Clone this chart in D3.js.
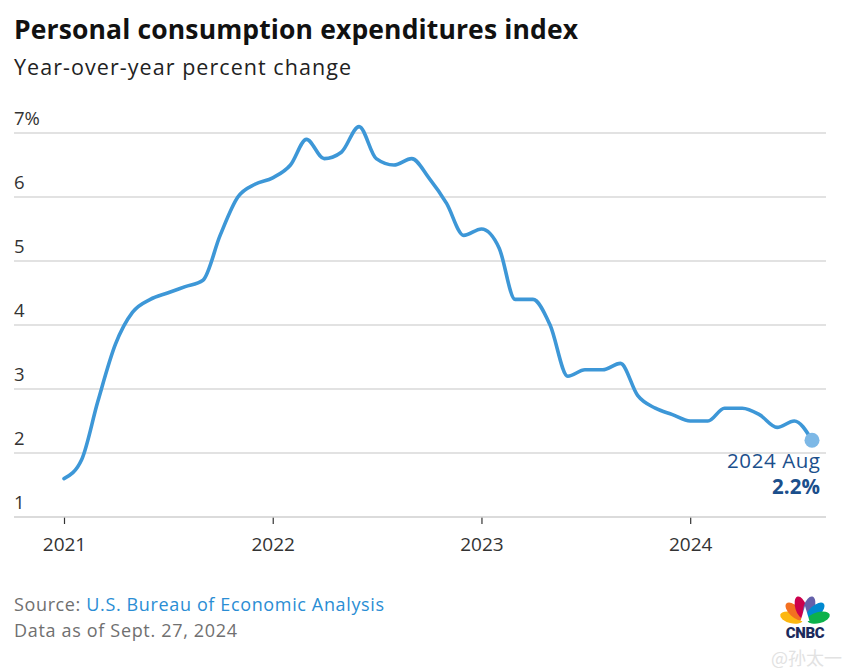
<!DOCTYPE html>
<html>
<head>
<meta charset="utf-8">
<script src="https://cdn.jsdelivr.net/npm/d3@7"></script>
<style>
  html, body { margin: 0; padding: 0; background: #fff; }
  svg { display: block; font-family: "Open Sans", Lato, sans-serif; }
</style>
</head>
<body>
<svg id="chart" width="844" height="671"></svg>
<script>
// ---- data ----
const months = [
  "2021-01","2021-02","2021-03","2021-04","2021-05","2021-06","2021-07","2021-08","2021-09","2021-10","2021-11","2021-12",
  "2022-01","2022-02","2022-03","2022-04","2022-05","2022-06","2022-07","2022-08","2022-09","2022-10","2022-11","2022-12",
  "2023-01","2023-02","2023-03","2023-04","2023-05","2023-06","2023-07","2023-08","2023-09","2023-10","2023-11","2023-12",
  "2024-01","2024-02","2024-03","2024-04","2024-05","2024-06","2024-07","2024-08"
];
const pceValues = [
  1.6, 1.9, 2.8, 3.7, 4.2, 4.4, 4.5, 4.6, 4.7, 5.4, 6.0, 6.2,
  6.3, 6.5, 6.9, 6.6, 6.7, 7.1, 6.6, 6.5, 6.6, 6.3, 5.9, 5.4,
  5.5, 5.2, 4.4, 4.4, 4.0, 3.2, 3.3, 3.3, 3.4, 2.9, 2.7, 2.6,
  2.5, 2.5, 2.7, 2.7, 2.6, 2.4, 2.5, 2.2
];
const yTicks = [1, 2, 3, 4, 5, 6, 7];
const xTickYears = ["2021", "2022", "2023", "2024"];

const title = "Personal consumption expenditures index";
const subtitle = "Year-over-year percent change";
const annotationLabel = "2024 Aug";
const annotationValue = "2.2%";

// ---- setup ----
const svg = d3.select("#chart");
const parse = d3.timeParse("%Y-%m");
const data = months.map((m, i) => ({ date: parse(m), value: pceValues[i] }));

const left = 14, right = 826;
const x = d3.scaleTime()
  .domain([parse(months[0]), parse(months[months.length - 1])])
  .range([64, 812]);
const y = d3.scaleLinear().domain([1, 7]).range([517, 133]);

// title & subtitle
svg.append("text").attr("x", 14).attr("y", 39)
  .attr("font-size", 26.5).attr("font-weight", 700).attr("fill", "#111")
  .attr("textLength", 564).attr("lengthAdjust", "spacing")
  .text(title);
svg.append("text").attr("x", 14).attr("y", 75)
  .attr("font-size", 21.5).attr("fill", "#222")
  .attr("textLength", 337).attr("lengthAdjust", "spacing")
  .text(subtitle);

// gridlines
svg.append("g").selectAll("line")
  .data(yTicks.filter(d => d > 1))
  .join("line")
  .attr("x1", left).attr("x2", right)
  .attr("y1", d => y(d)).attr("y2", d => y(d))
  .attr("stroke", "#d9d9d9").attr("stroke-width", 1.5);

// y labels
svg.append("g").selectAll("text")
  .data(yTicks)
  .join("text")
  .attr("x", 14).attr("y", d => y(d) - 8)
  .attr("font-size", 18.5).attr("fill", "#333")
  .text(d => d === 7 ? d + "%" : d);

// x axis
const xAxis = d3.axisBottom(x)
  .tickValues(xTickYears.map(yy => d3.timeParse("%Y")(yy)))
  .tickFormat(d3.timeFormat("%Y"))
  .tickSize(7).tickPadding(14);
const gx = svg.append("g").attr("transform", "translate(0,517)").call(xAxis);
gx.select(".domain").remove();
gx.selectAll(".tick line").attr("stroke", "#333").attr("stroke-width", 1.2);
gx.selectAll(".tick text").attr("font-size", 19).attr("fill", "#333")
  .attr("font-family", "'Open Sans', sans-serif");
svg.append("line")
  .attr("x1", left).attr("x2", right).attr("y1", y(1)).attr("y2", y(1))
  .attr("stroke", "#cfcfcf").attr("stroke-width", 1.5);

// line
const line = d3.line()
  .x(d => x(d.date)).y(d => y(d.value))
  .curve(d3.curveMonotoneX);
svg.append("path").datum(data)
  .attr("d", line)
  .attr("fill", "none").attr("stroke", "#3d97d7")
  .attr("stroke-width", 3.6).attr("stroke-linecap", "round").attr("stroke-linejoin", "round");

// end dot
const last = data[data.length - 1];
svg.append("circle")
  .attr("cx", x(last.date)).attr("cy", y(last.value)).attr("r", 7.5)
  .attr("fill", "#7db8e6");

// annotation
svg.append("text").attr("x", 820).attr("y", 468).attr("text-anchor", "end")
  .attr("font-size", 20.5).attr("fill", "#1b4f8c")
  .attr("textLength", 93).attr("lengthAdjust", "spacing")
  .text(annotationLabel);
svg.append("text").attr("x", 820).attr("y", 494).attr("text-anchor", "end")
  .attr("font-size", 20.5).attr("font-weight", 700).attr("fill", "#1b4f8c")
  .attr("textLength", 48).attr("lengthAdjust", "spacing")
  .text(annotationValue);

// source
const src = svg.append("text").attr("x", 14).attr("y", 611).attr("font-size", 18)
  .attr("textLength", 370).attr("lengthAdjust", "spacing");
src.append("tspan").attr("fill", "#707070").text("Source: ");
src.append("tspan").attr("fill", "#2a8dd4").text("U.S. Bureau of Economic Analysis");
svg.append("text").attr("x", 14).attr("y", 637).attr("font-size", 18)
  .attr("fill", "#707070")
  .attr("textLength", 223).attr("lengthAdjust", "spacing")
  .text("Data as of Sept. 27, 2024");

// CNBC logo
const logo = svg.append("g").attr("transform", "translate(805,621)");
const feathers = [
  { a: -76, c: "#fcb711" },
  { a: -47, c: "#f37021" },
  { a: -17, c: "#cc004c" },
  { a: 17, c: "#6460aa" },
  { a: 47, c: "#0089d0" },
  { a: 76, c: "#0db14b" }
];
feathers.forEach(f => {
  logo.append("ellipse")
    .attr("cx", 0).attr("cy", -14).attr("rx", 5.6).attr("ry", 11.5)
    .attr("transform", `rotate(${f.a})`)
    .attr("fill", f.c);
});
logo.append("path").attr("d", "M-4.5,0 L0,-15 L4.5,0 Z").attr("fill", "#fff");
svg.append("text").attr("x", 805).attr("y", 638).attr("text-anchor", "middle")
  .attr("font-size", 15).attr("font-weight", 900).attr("fill", "#1b2a5c")
  .attr("font-family", "Roboto, Arial, sans-serif")
  .attr("letter-spacing", -0.3)
  .text("CNBC");

// watermark
svg.append("text").attr("x", 842).attr("y", 665).attr("text-anchor", "end")
  .attr("font-size", 18).attr("fill", "#e2e2e2")
  .attr("font-family", "'Noto Sans CJK SC', sans-serif")
  .text("@孙太一");
</script>
</body>
</html>
